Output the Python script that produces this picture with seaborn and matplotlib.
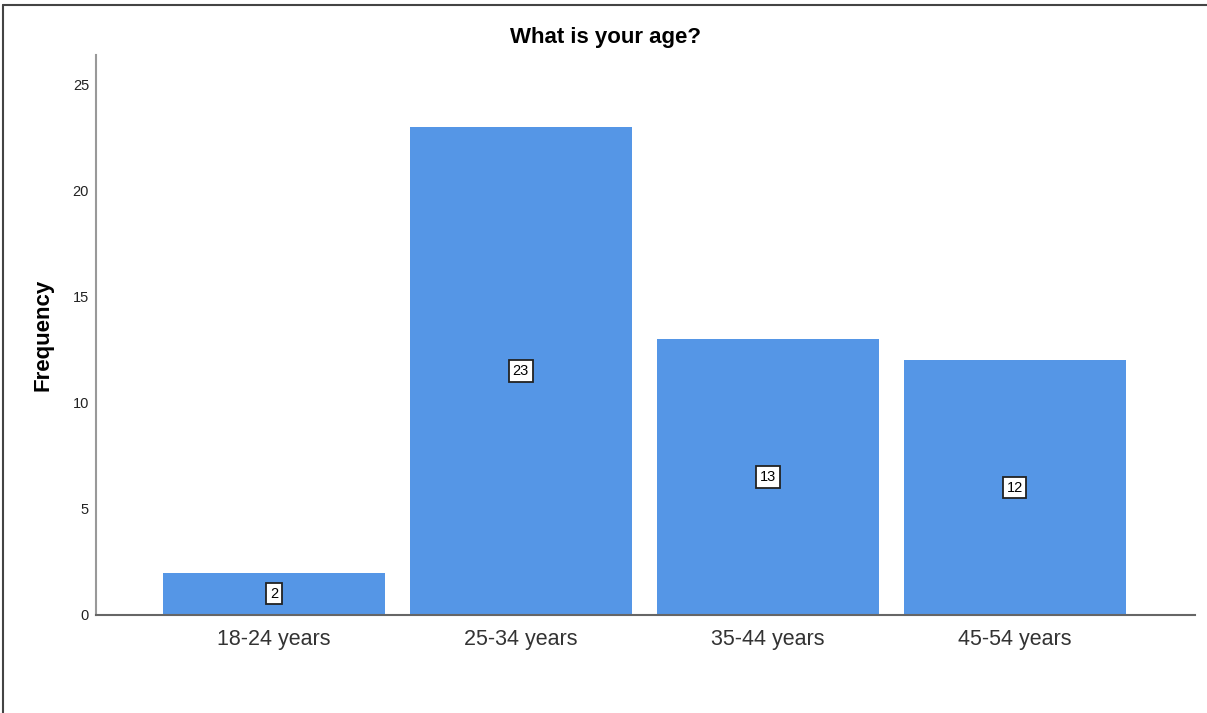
import matplotlib
matplotlib.use('Agg')
import matplotlib.pyplot as plt
import seaborn as sns
import pandas as pd

# Data
age_groups = ['18-24 years', '25-34 years', '35-44 years', '45-54 years']
frequency = [2, 23, 13, 12]
y_ticks = [0, 5, 10, 15, 20, 25]

sns.set_theme(style="white")
plt.rcParams['font.family'] = ['Liberation Sans', 'DejaVu Sans']

df = pd.DataFrame({'age': age_groups, 'count': frequency})

fig = plt.figure(figsize=(12.07, 7.13), dpi=100, facecolor='white')
ax = fig.add_axes([96 / 1207, 1 - 615 / 713, (1195 - 96) / 1207, (615 - 55) / 713])

sns.barplot(data=df, x='age', y='count', color='#5596E6', saturation=1,
            width=0.9, ax=ax, edgecolor='none')

# value labels in boxes at the middle of each bar
for i, v in enumerate(frequency):
    ax.text(i, v / 2, str(v), ha='center', va='center', fontsize=10.5, color='black',
            bbox=dict(boxstyle='square,pad=0.25', facecolor='white', edgecolor='#222222', linewidth=1.3))

ax.set_xlim(-0.72, 3.73)
ax.set_ylim(0, 26.4)
ax.set_yticks(y_ticks)
ax.set_yticklabels([str(t) for t in y_ticks], fontsize=10.5, color='#222222')
ax.tick_params(axis='x', labelsize=15.5, colors='#333333', length=0, pad=10)
ax.tick_params(axis='y', length=0, pad=5)
ax.set_xlabel('')
ax.set_ylabel('Frequency', fontsize=16, fontweight='bold', color='black', labelpad=14)

for side in ['top', 'right']:
    ax.spines[side].set_visible(False)
ax.spines['left'].set_color('#999999')
ax.spines['left'].set_linewidth(1.5)
ax.spines['bottom'].set_color('#666666')
ax.spines['bottom'].set_linewidth(1.5)

fig.text(605 / 1207, 1 - 38 / 713, 'What is your age?', ha='center', va='center',
         fontsize=16, fontweight='bold', color='black')

# frame lines at top and left of the picture
fig.add_artist(plt.Line2D([3 / 1207, 1], [1 - 5 / 713, 1 - 5 / 713], color='#444444', linewidth=1.5))
fig.add_artist(plt.Line2D([3 / 1207, 3 / 1207], [0, 1 - 5 / 713], color='#444444', linewidth=1.5))

fig.savefig('out.png', dpi=100, facecolor='white')
